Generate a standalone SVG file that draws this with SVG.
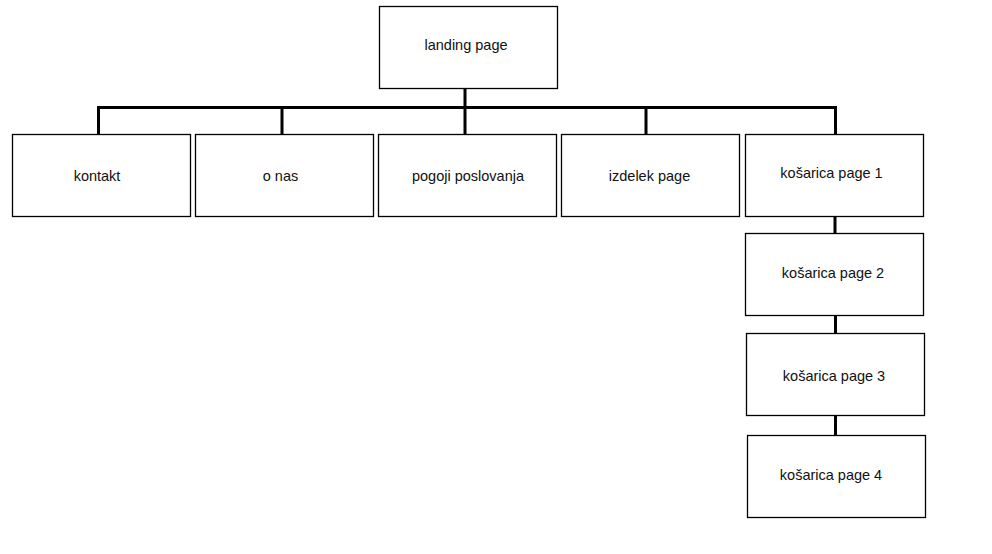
<svg xmlns="http://www.w3.org/2000/svg" width="992" height="554" viewBox="0 0 992 554">
<style>
.box{fill:#fff;stroke:#000;stroke-width:1.3}
.lbl{font-family:"Liberation Sans",Arial,sans-serif;font-size:14.5px;fill:#111;text-anchor:middle}
.conn{fill:none;stroke:#000;stroke-width:3}
</style>
<rect width="992" height="554" fill="#fff"/>
<g id="connectors">
<path class="conn" d="M465 88.5V107.5M98.5 107.5H835.5M98.5 106V134M282 107.5V134M465 107.5V134M646 107.5V134M835.5 106V134"/>
<path class="conn" d="M835 216V233M835.5 315V333M835.5 415V435"/>
</g>
<g id="landing"><rect class="box" x="379.5" y="6.5" width="178" height="82"/><text class="lbl" x="466" y="50">landing page</text></g>
<g id="kontakt"><rect class="box" x="12.5" y="134.5" width="178" height="82"/><text class="lbl" x="97" y="181">kontakt</text></g>
<g id="onas"><rect class="box" x="195.5" y="134.5" width="178" height="82"/><text class="lbl" x="280.5" y="181">o nas</text></g>
<g id="pogoji"><rect class="box" x="378.5" y="134.5" width="178" height="82"/><text class="lbl" x="468" y="181">pogoji poslovanja</text></g>
<g id="izdelek"><rect class="box" x="561.5" y="134.5" width="178" height="82"/><text class="lbl" x="649.5" y="181">izdelek page</text></g>
<g id="kosarica1"><rect class="box" x="745.5" y="134.5" width="178" height="82"/><text class="lbl" x="831.5" y="177.5">košarica page 1</text></g>
<g id="kosarica2"><rect class="box" x="745.5" y="233.5" width="178" height="82"/><text class="lbl" x="833" y="277.5">košarica page 2</text></g>
<g id="kosarica3"><rect class="box" x="746.5" y="333.5" width="178" height="82"/><text class="lbl" x="834" y="380.5">košarica page 3</text></g>
<g id="kosarica4"><rect class="box" x="747.5" y="435.5" width="178" height="82"/><text class="lbl" x="831" y="479.5">košarica page 4</text></g>
</svg>
